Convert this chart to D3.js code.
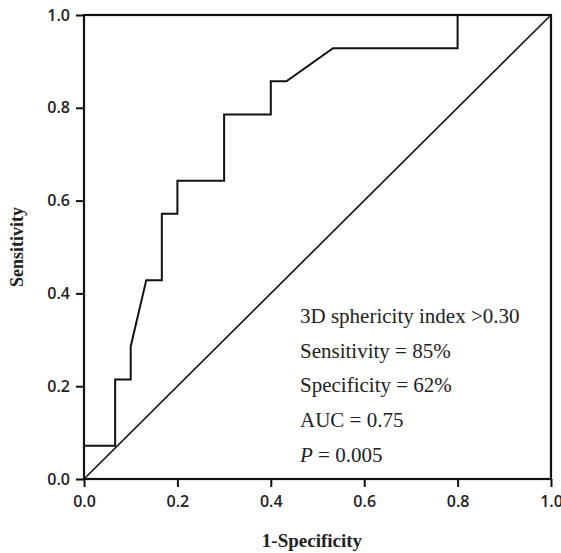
<!DOCTYPE html>
<html><head><meta charset="utf-8">
<script src="https://cdn.jsdelivr.net/npm/d3@7"></script>
<style>body{margin:0;background:#fff}svg{display:block}</style>
</head><body>
<script>
// 1-Specificity (FPR) and Sensitivity (TPR) of the ROC curve vertices
const fpr = [0, 0, 2/30, 2/30, 3/30, 3/30, 4/30, 5/30, 5/30, 6/30, 6/30, 9/30, 9/30, 12/30, 12/30, 13/30, 16/30, 24/30, 24/30, 1];
const tpr = [0, 1/14, 1/14, 3/14, 3/14, 4/14, 6/14, 6/14, 8/14, 8/14, 9/14, 9/14, 11/14, 11/14, 12/14, 12/14, 13/14, 13/14, 1, 1];
const xTicks = [0, 0.2, 0.4, 0.6, 0.8, 1.0];
const yTicks = [0, 0.2, 0.4, 0.6, 0.8, 1.0];
const annotations = ["3D sphericity index >0.30", "Sensitivity = 85%", "Specificity = 62%", "AUC = 0.75", "P = 0.005"];
const xTitle = "1-Specificity";
const yTitle = "Sensitivity";

const W = 561, H = 553;
const m = {left: 84, right: 10, top: 15, bottom: 74};
const svg = d3.select("body").append("svg").attr("width", W).attr("height", H);
const x = d3.scaleLinear().domain([0, 1]).range([m.left, W - m.right]);
const y = d3.scaleLinear().domain([0, 1]).range([H - m.bottom, m.top]);

const tickFont = "'Open Sans', sans-serif";
const gx = svg.append("g").attr("transform", `translate(0,${y(0)})`)
  .call(d3.axisBottom(x).tickValues(xTicks).tickFormat(d3.format(".1f")).tickSize(8).tickPadding(9));
const gy = svg.append("g").attr("transform", `translate(${x(0)},0)`)
  .call(d3.axisLeft(y).tickValues(yTicks).tickFormat(d3.format(".1f")).tickSize(8).tickPadding(6));
[gx, gy].forEach(g => {
  g.select(".domain").remove();
  g.selectAll("line").attr("stroke", "#111").attr("stroke-width", 2);
  g.selectAll("text").attr("fill", "#222").style("font-family", tickFont)
    .style("font-size", "16px").style("font-weight", 600);
});

// frame
svg.append("rect").attr("x", x(0)).attr("y", y(1)).attr("width", x(1) - x(0)).attr("height", y(0) - y(1))
  .attr("fill", "none").attr("stroke", "#111").attr("stroke-width", 2.2);

// diagonal
svg.append("line").attr("x1", x(0)).attr("y1", y(0)).attr("x2", x(1)).attr("y2", y(1))
  .attr("stroke", "#111").attr("stroke-width", 1.6);

// ROC
const pts = fpr.map((v, i) => [v, tpr[i]]);
svg.append("path").datum(pts)
  .attr("d", d3.line().x(d => x(d[0])).y(d => y(d[1])))
  .attr("fill", "none").attr("stroke", "#111").attr("stroke-width", 2).attr("stroke-linejoin", "miter");

// annotations
const ann = svg.append("g").style("font-family", "'Liberation Serif', 'Times New Roman', serif")
  .style("font-size", "21px").attr("fill", "#222");
annotations.forEach((t, i) => {
  const tx = ann.append("text").attr("x", 300).attr("y", 323 + i * 34.7);
  if (t.startsWith("P ")) {
    tx.append("tspan").style("font-style", "italic").text("P");
    tx.append("tspan").text(t.slice(1));
  } else tx.text(t);
});

// axis titles
svg.append("text").attr("x", 312).attr("y", 547).attr("text-anchor", "middle")
  .style("font-family", "'Liberation Serif', serif").style("font-weight", "bold").style("font-size", "19px")
  .attr("fill", "#222").text(xTitle);
svg.append("text").attr("transform", `translate(23,${(y(0) + y(1)) / 2}) rotate(-90)`).attr("text-anchor", "middle")
  .style("font-family", "'Liberation Serif', serif").style("font-weight", "bold").style("font-size", "18px")
  .attr("fill", "#222").text(yTitle);
</script>
</body></html>
